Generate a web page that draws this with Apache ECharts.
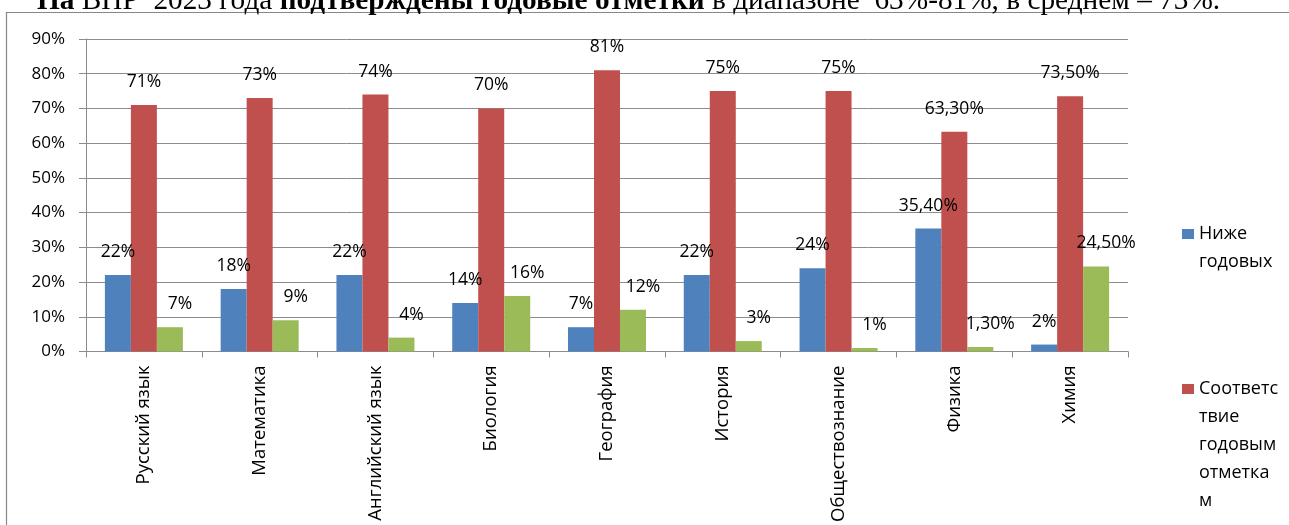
<!DOCTYPE html>
<html>
<head>
<meta charset="utf-8">
<title>ВПР 2023</title>
<script src="https://cdn.jsdelivr.net/npm/echarts@6/dist/echarts.min.js"></script>
<style>
  html, body { margin: 0; padding: 0; background: #fff; }
  #chart { width: 1289px; height: 525px; }
</style>
</head>
<body>
<div id="chart"></div>
<script>
// данные диаграммы
const categories = ['Русский язык', 'Математика', 'Английский язык', 'Биология', 'География', 'История', 'Обществознание', 'Физика', 'Химия']
const seriesNames = ['Ниже годовых', 'Соответствие годовым отметкам', 'Выше годовых']
const belowValues = [22, 18, 22, 14, 7, 22, 24, 35.4, 2]
const matchValues = [71, 73, 74, 70, 81, 75, 75, 63.3, 73.5]
const aboveValues = [7, 9, 4, 16, 12, 3, 1, 1.3, 24.5]
const yTicks = { min: 0, max: 90, step: 10 }

const FONT = '"Open Sans", "Liberation Sans", sans-serif'
const SERIF = '"Liberation Serif", "DejaVu Serif", serif'
const colors = ['#4F81BD', '#C0504D', '#9BBB59']
const gridColor = '#8c8c8c'

// подпись как в Excel: 35,40%
const pct = (v) => Number.isInteger(v) ? v + '%' : v.toFixed(2).replace('.', ',') + '%'

// перенос строк в легенде (как в Excel, по ширине)
const legendLines = {
  'Ниже годовых': ['Ниже', 'годовых'],
  'Соответствие годовым отметкам': ['Соответс', 'твие', 'годовым', 'отметка', 'м']
}
// пустые строки сверху, чтобы маркер стоял у первой строки
const legendText = (name) => {
  const lines = legendLines[name]
  return new Array(lines.length - 1).fill('').concat(lines).join('\n')
}

const chartInstance = echarts.init(document.getElementById('chart'), null, { renderer: 'canvas' })

const legendItem = (name, top) => ({
  data: [name],
  orient: 'vertical',
  left: 1182,
  top: top,
  padding: 0,
  icon: 'rect',
  itemWidth: 12,
  itemHeight: 10,
  itemGap: 0,
  selectedMode: false,
  formatter: legendText,
  textStyle: {
    fontFamily: FONT,
    fontSize: 18,
    color: '#000',
    lineHeight: 28
  }
})

const barSeries = (name, values, color, offsetX) => ({
  name: name,
  type: 'bar',
  data: values,
  barWidth: 26,
  barGap: '0%',
  itemStyle: { color: color },
  label: {
    show: true,
    position: 'top',
    distance: 14,
    offset: [offsetX, 0],
    color: '#000',
    fontFamily: FONT,
    fontSize: 17.5,
    formatter: (p) => pct(p.value)
  }
})

const option = {
  animation: false,
  backgroundColor: '#fff',
  textStyle: { fontFamily: FONT },
  grid: { left: 86, right: 161, top: 39, bottom: 173, containLabel: false },
  graphic: [
    {
      type: 'rect',
      shape: { x: 6.5, y: 12.5, width: 1400, height: 700 },
      style: { fill: 'none', stroke: '#878787', lineWidth: 1.2 },
      silent: true
    },
    {
      type: 'text',
      x: 37,
      y: -13,
      style: {
        text: '{b|На} {n|ВПР  2023 года} {b|подтверждены годовые отметки} {n|в диапазоне  63%-81%, в среднем – 73%.}',
        textVerticalAlign: 'top',
        fill: '#000',
        fontFamily: SERIF,
        fontSize: 29.3,
        rich: {
          b: { fontFamily: SERIF, fontSize: 29.3, fontWeight: 'bold', fill: '#000' },
          n: { fontFamily: SERIF, fontSize: 29.3, fill: '#000' }
        }
      },
      silent: true
    }
  ],
  legend: [
    legendItem(seriesNames[0], 192),
    legendItem(seriesNames[1], 263)
  ],
  xAxis: {
    type: 'category',
    data: categories,
    axisLine: { lineStyle: { color: gridColor, width: 1 } },
    axisTick: { show: true, length: 6, lineStyle: { color: gridColor } },
    axisLabel: {
      rotate: 90,
      margin: 14,
      color: '#000',
      fontFamily: FONT,
      fontSize: 18.5,
      interval: 0
    }
  },
  yAxis: {
    type: 'value',
    min: yTicks.min,
    max: yTicks.max,
    interval: yTicks.step,
    axisLine: { show: true, lineStyle: { color: gridColor, width: 1 } },
    axisTick: { show: true, length: 7, lineStyle: { color: gridColor } },
    splitLine: { lineStyle: { color: gridColor, width: 1 } },
    axisLabel: {
      margin: 21,
      color: '#000',
      fontFamily: FONT,
      fontSize: 17,
      formatter: '{value}%'
    }
  },
  series: [
    barSeries(seriesNames[0], belowValues, colors[0], 0),
    barSeries(seriesNames[1], matchValues, colors[1], 0),
    barSeries(seriesNames[2], aboveValues, colors[2], 10)
  ]
}

chartInstance.setOption(option)
</script>
</body>
</html>
